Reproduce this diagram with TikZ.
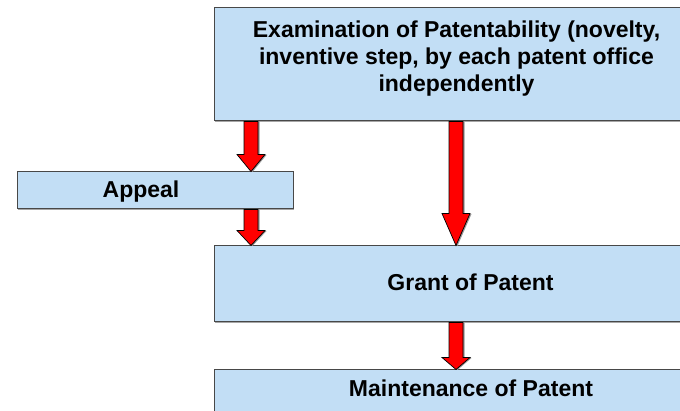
\documentclass[tikz,border=0pt]{standalone}
\usepackage{fontspec}
\setmainfont{Liberation Sans}
\usetikzlibrary{calc,shadows}
\definecolor{boxfill}{RGB}{194,222,245}
\definecolor{boxline}{RGB}{72,72,72}
\definecolor{arrowred}{RGB}{255,0,0}
\tikzset{
  stagebox/.style={draw=boxline, line width=1pt, fill=boxfill, inner sep=0pt,
    drop shadow={shadow xshift=1.2pt, shadow yshift=-1.5pt, fill=gray!70, opacity=1}},
  stagetext/.style={font=\fontsize{23}{27}\selectfont\bfseries, inner sep=0pt, align=center},
  flowarrow/.style={fill=arrowred, draw=black, line width=0.7pt, line join=miter,
    drop shadow={shadow xshift=1.5pt, shadow yshift=-0.5pt, fill=gray!80, opacity=1}}
}
% block arrow from the bottom of #1 to the top of #2 at x = #3, head length #4
\newcommand\blockarrow[4]{%
  \path[flowarrow] let \p1=(#1.south), \p2=(#2.north) in
    (#3pt-7pt,\y1) -- (#3pt+7pt,\y1) -- (#3pt+7pt,\y2+#4pt) -- (#3pt+14pt,\y2+#4pt)
    -- (#3pt,\y2) -- (#3pt-14pt,\y2+#4pt) -- (#3pt-7pt,\y2+#4pt) -- cycle;}
\begin{document}
\begin{tikzpicture}[x=1pt,y=-1pt]
  \useasboundingbox (0,0) rectangle (680,411);
  \clip (0,0) rectangle (680,411);
  % stage boxes
  \node[stagebox, minimum width=484pt, minimum height=113pt] (exam) at (456,64.5) {};
  \node[stagebox, minimum width=276pt, minimum height=37pt] (appeal) at (155,190.5) {};
  \node[stagebox, minimum width=514pt, minimum height=76pt] (grant) at (471,284) {};
  \node[stagebox, minimum width=514pt, minimum height=80pt] (maint) at (471,410) {};
  % labels
  \node[stagetext, anchor=north] at (456.5,20.3)
    {Examination of Patentability (novelty,\\inventive step, by each patent office\\independently};
  \node[stagetext, anchor=base] at (141,197.7) {Appeal};
  \node[stagetext, anchor=base] at (470.5,290.7) {Grant of Patent};
  \node[stagetext, anchor=base] at (471,396.7) {Maintenance of Patent};
  % arrows
  \blockarrow{exam}{appeal}{251}{17}
  \blockarrow{appeal}{grant}{251}{15}
  \blockarrow{exam}{grant}{456}{32}
  \blockarrow{grant}{maint}{456}{12}
\end{tikzpicture}
\end{document}
